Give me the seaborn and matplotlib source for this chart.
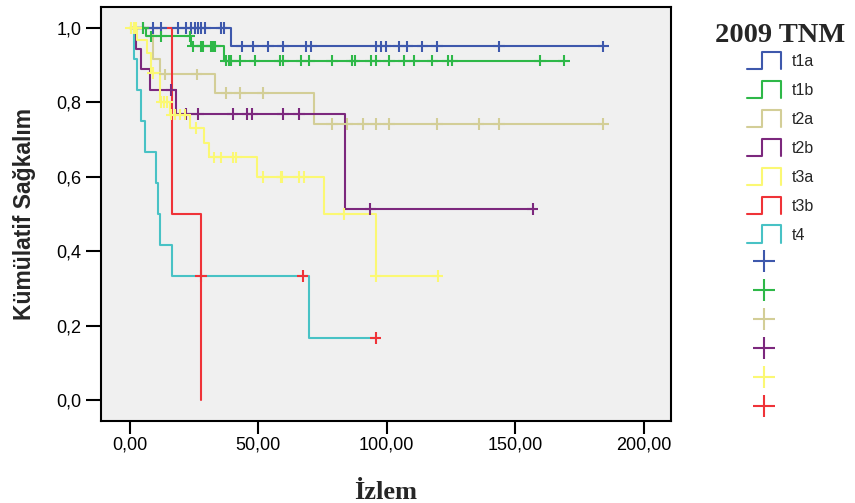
import numpy as np
import pandas as pd
import matplotlib
matplotlib.use("Agg")
import matplotlib.pyplot as plt
import seaborn as sns
from matplotlib.lines import Line2D
from matplotlib.legend_handler import HandlerBase
from matplotlib.ticker import FuncFormatter

# ---------------- data ----------------
groups = ["t1a", "t1b", "t2a", "t2b", "t3a", "t3b", "t4"]
line_colors = ["#3E58AC", "#2EB848", "#D3CE97", "#7C287D", "#FBF873", "#EF3338", "#48C2C5"]
# censor-mark colours as drawn in the reference (t4's marks appear in red)
cens_colors = {"t1a": "#3E58AC", "t1b": "#2EB848", "t2a": "#D3CE97",
               "t2b": "#7C287D", "t3a": "#FBF873", "t4": "#EF3338"}

t1a_times = [39.6]
t1a_surv = [0.95]
t1a_end = 184.4
t1a_cens = [5.2, 8.9, 12.3, 18.7, 21.8, 24.0, 25.3, 26.5, 27.9, 29.2, 35.7, 36.6,
            43.5, 48.0, 53.8, 59.7, 68.7, 70.7, 95.7, 97.7, 99.6, 104.8, 107.9,
            113.9, 119.7, 143.7, 184.4]

t1b_times = [6.5, 24.0, 36.6]
t1b_surv = [0.977, 0.95, 0.912]
t1b_end = 169.0
t1b_cens = [5.2, 8.4, 12.3, 23.3, 24.6, 27.9, 28.5, 31.8, 32.4, 33.1, 37.5, 38.5,
            39.6, 42.8, 48.6, 58.4, 59.7, 66.8, 69.8, 78.7, 86.6, 87.5, 93.8, 95.7,
            100.8, 106.7, 110.8, 117.8, 123.9, 125.6, 159.8, 169.0]

t2a_times = [9.1, 11.7, 33.1, 71.7]
t2a_surv = [0.917, 0.875, 0.825, 0.742]
t2a_end = 184.4
t2a_cens = [2.0, 13.6, 26.0, 37.6, 42.8, 51.9, 78.7, 84.7, 90.8, 95.7, 100.8,
            119.7, 135.8, 143.7, 184.4]

t2b_times = [2.6, 4.5, 7.8, 17.9, 83.9]
t2b_surv = [0.944, 0.889, 0.833, 0.769, 0.513]
t2b_end = 156.8
t2b_cens = [16.2, 21.8, 26.6, 40.0, 45.8, 47.7, 59.7, 65.8, 93.7, 156.8]

t3a_times = [3.0, 6.9, 8.4, 11.7, 15.6, 23.6, 28.8, 30.7, 49.7, 75.6, 95.7]
t3a_surv = [0.967, 0.933, 0.878, 0.80, 0.767, 0.731, 0.691, 0.652, 0.599, 0.5, 0.333]
t3a_end = 119.8
t3a_cens = [0.5, 1.5, 2.5, 9.1, 12.3, 13.2, 14.5, 16.2, 17.5, 19.5, 21.4, 25.9,
            32.8, 35.7, 40.0, 41.5, 51.9, 59.0, 59.4, 65.8, 67.7, 83.3, 95.7, 119.8]

t3b_times = [16.6, 27.7]
t3b_surv = [0.5, 0.0]
t3b_end = 27.7
t3b_cens = []

t4_times = [1.7, 3.0, 4.5, 5.8, 10.1, 11.0, 11.7, 16.6, 69.8]
t4_surv = [0.917, 0.833, 0.75, 0.667, 0.583, 0.5, 0.417, 0.333, 0.167]
t4_end = 95.7
t4_cens = [27.7, 67.3, 95.7]

x_ticks = [0, 50, 100, 150, 200]
y_ticks = [0.0, 0.2, 0.4, 0.6, 0.8, 1.0]

series = {
    "t1a": (t1a_times, t1a_surv, t1a_end, t1a_cens),
    "t1b": (t1b_times, t1b_surv, t1b_end, t1b_cens),
    "t2a": (t2a_times, t2a_surv, t2a_end, t2a_cens),
    "t2b": (t2b_times, t2b_surv, t2b_end, t2b_cens),
    "t3a": (t3a_times, t3a_surv, t3a_end, t3a_cens),
    "t3b": (t3b_times, t3b_surv, t3b_end, t3b_cens),
    "t4": (t4_times, t4_surv, t4_end, t4_cens),
}

# ---------------- tables ----------------
line_rows, cens_rows = [], []
for g, (tt, ss, end, cens) in series.items():
    xs = [0.0] + list(tt) + [end]
    ys = [1.0] + list(ss) + [ss[-1]]
    for x, y in zip(xs, ys):
        line_rows.append((g, x, y))
    levels = [1.0] + list(ss)
    for c in cens:
        idx = int(np.searchsorted(tt, c, side="right"))
        cens_rows.append((g, c, levels[idx]))
df_lines = pd.DataFrame(line_rows, columns=["grp", "t", "s"])
df_cens = pd.DataFrame(cens_rows, columns=["grp", "t", "s"])

# ---------------- plotting ----------------
sns.set_style("ticks")
plt.rcParams["font.family"] = ["Liberation Sans", "DejaVu Sans"]
serif = ["Liberation Serif", "DejaVu Serif"]

fig = plt.figure(figsize=(8.55, 5.03), dpi=100)
ax = fig.add_axes([101 / 855, 1 - 421 / 503, 570 / 855, 414 / 503])
ax.set_facecolor("#F0F0F0")

sns.lineplot(data=df_lines, x="t", y="s", hue="grp", hue_order=groups,
             palette=dict(zip(groups, line_colors)), estimator=None, sort=False,
             drawstyle="steps-post", linewidth=1.5, legend=False, ax=ax)
sns.scatterplot(data=df_cens, x="t", y="s", hue="grp", palette=cens_colors,
                marker="+", s=70, linewidth=1.5, legend=False, ax=ax, zorder=3)

ax.set_xlim(-11.2, 210.7)
ax.set_ylim(-0.056, 1.056)
ax.set_xticks(x_ticks)
ax.set_yticks(y_ticks)
ax.xaxis.set_major_formatter(FuncFormatter(lambda v, p: f"{v:.2f}".replace(".", ",")))
ax.yaxis.set_major_formatter(FuncFormatter(lambda v, p: f"{v:.1f}".replace(".", ",")))
ax.tick_params(axis="both", direction="out", length=11, width=1.5, labelsize=13,
               colors="black")
ax.tick_params(axis="x", length=9, pad=2)
ax.tick_params(axis="y", pad=3)
for sp in ax.spines.values():
    sp.set_visible(True)
    sp.set_linewidth(1.5)
    sp.set_color("black")

ax.set_xlabel("İzlem", fontsize=19, fontweight="bold", family=serif, labelpad=20)
ax.set_ylabel("Kümülatif Sağkalım", fontsize=16.5, fontweight="bold", labelpad=15)


class StepHandler(HandlerBase):
    def create_artists(self, legend, orig_handle, xdescent, ydescent, width,
                       height, fontsize, trans):
        x0, y0 = -xdescent, -ydescent
        xs = [x0, x0 + 0.45 * width, x0 + 0.45 * width, x0 + width, x0 + width]
        ys = [y0, y0, y0 + height, y0 + height, y0]
        ln = Line2D(xs, ys, color=orig_handle.get_color(),
                    lw=orig_handle.get_linewidth(), transform=trans)
        return [ln]


step_handles = [Line2D([], [], color=c, lw=1.5) for c in line_colors]
cross_handles = [Line2D([], [], ls="none", marker="+", markersize=16, mew=1.5,
                        color=cens_colors[g]) for g in ["t1a", "t1b", "t2a", "t2b", "t3a", "t4"]]
handles = step_handles + cross_handles
labels = groups + [""] * len(cross_handles)
hmap = {h: StepHandler() for h in step_handles}
leg = fig.legend(handles, labels, handler_map=hmap, loc="upper left",
                 bbox_to_anchor=(747 / 855, 1 - 52 / 503), frameon=False,
                 fontsize=11.5, handlelength=2.1, handleheight=1.3,
                 labelspacing=0.72, handletextpad=0.7, borderaxespad=0,
                 borderpad=0)
fig.text(780 / 855, 1 - 36 / 503, "2009 TNM", ha="center", va="center",
         fontsize=20.5, fontweight="bold", family=serif)

fig.savefig("out.png", dpi=100, facecolor="white")
